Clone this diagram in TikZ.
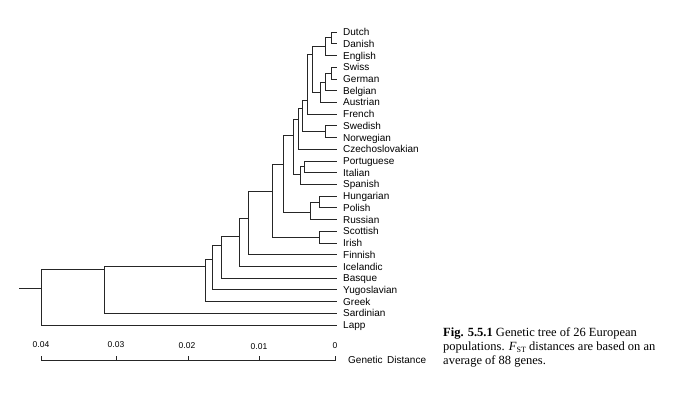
\documentclass[tikz,border=0pt]{standalone}
\usepackage{fontspec}
\setmainfont{Liberation Serif}
\newfontfamily\labfont{Liberation Sans}
\newcommand\dendjoin[3]{\draw[branch] (#1) |- (#2) (#1) |- (#3);}
\begin{document}
\begin{tikzpicture}[x=1pt,y=-1pt,
  branch/.style={draw=black!85, line width=0.7pt},
  leaf/.style={anchor=west, inner sep=0pt, text height=7.2pt, text depth=0pt,
    font=\labfont\fontsize{10}{12}\selectfont},
  ticklabel/.style={inner sep=0pt, font=\labfont\fontsize{8.5}{10}\selectfont},
  caption/.style={anchor=base west, inner sep=0pt, font=\fontsize{12.5}{14}\selectfont}]
\useasboundingbox (0,0) rectangle (700,393);
% leaves
\foreach \n/\t [count=\i from 0] in {dutch/Dutch, danish/Danish, english/English,
  swiss/Swiss, german/German, belgian/Belgian, austrian/Austrian, french/French,
  swedish/Swedish, norwegian/Norwegian, czech/Czechoslovakian, portuguese/Portuguese,
  italian/Italian, spanish/Spanish, hungarian/Hungarian, polish/Polish, russian/Russian,
  scottish/Scottish, irish/Irish, finnish/Finnish, icelandic/Icelandic, basque/Basque,
  yugoslavian/Yugoslavian, greek/Greek, sardinian/Sardinian, lapp/Lapp} {
  \node[leaf] (\n) at (343, 32+11.72*\i) {\t};
  \coordinate (\n-e) at (337, 32+11.72*\i);
}
% internal nodes (x = distance, y = connection height)
\coordinate (A) at (331,37.8);
\coordinate (B) at (325,46.5);
\coordinate (C) at (331,73);
\coordinate (D) at (325,82);
\coordinate (E) at (320,92);
\coordinate (F) at (312,54);
\coordinate (G) at (307,100);
\coordinate (H) at (325,131.6);
\coordinate (I) at (302,108);
\coordinate (J) at (298,119);
\coordinate (K) at (304,166.8);
\coordinate (L) at (300,174);
\coordinate (M) at (293,135);
\coordinate (N) at (319,202);
\coordinate (O) at (310,212);
\coordinate (P) at (283,164);
\coordinate (Q) at (319,237);
\coordinate (R) at (272,191);
\coordinate (S) at (248,218);
\coordinate (T) at (239,236);
\coordinate (U) at (221,245);
\coordinate (V) at (212,259);
\coordinate (W) at (205,266);
\coordinate (X) at (104,269);
\coordinate (Y) at (41,288);
\coordinate (rootend) at (19,288);
\dendjoin{A}{dutch-e}{danish-e}
\dendjoin{B}{A}{english-e}
\dendjoin{C}{swiss-e}{german-e}
\dendjoin{D}{C}{belgian-e}
\dendjoin{E}{D}{austrian-e}
\dendjoin{F}{B}{E}
\dendjoin{G}{F}{french-e}
\dendjoin{H}{swedish-e}{norwegian-e}
\dendjoin{I}{G}{H}
\dendjoin{J}{I}{czech-e}
\dendjoin{K}{portuguese-e}{italian-e}
\dendjoin{L}{K}{spanish-e}
\dendjoin{M}{J}{L}
\dendjoin{N}{hungarian-e}{polish-e}
\dendjoin{O}{N}{russian-e}
\dendjoin{P}{M}{O}
\dendjoin{Q}{scottish-e}{irish-e}
\dendjoin{R}{P}{Q}
\dendjoin{S}{R}{finnish-e}
\dendjoin{T}{S}{icelandic-e}
\dendjoin{U}{T}{basque-e}
\dendjoin{V}{U}{yugoslavian-e}
\dendjoin{W}{V}{greek-e}
\dendjoin{X}{W}{sardinian-e}
\dendjoin{Y}{X}{lapp-e}
\draw[branch] (Y) -- (rootend);
% axis
\coordinate (tk4) at (41,360.5);
\coordinate (tk3) at (116,360.5);
\coordinate (tk2) at (188,360.5);
\coordinate (tk1) at (259,360.5);
\coordinate (tk0) at (335,360.5);
\draw[branch] (tk4) -- (tk0);
\foreach \k in {tk4,tk3,tk2,tk1,tk0} \draw[branch] (\k) -- ++(0,-5);
\node[ticklabel] (l4) at (41,345) {0.04};
\node[ticklabel] (l3) at (116,344.5) {0.03};
\node[ticklabel] (l2) at (187,345.5) {0.02};
\node[ticklabel] (l1) at (259,347) {0.01};
\node[ticklabel] (l0) at (335,346) {0};
\node[anchor=west, inner sep=0pt, font=\labfont\fontsize{10}{12}\selectfont] (gd) at (348,359.5) {Genetic\hspace{4.5pt}Distance};
% caption
\node[caption] (cap1) at (443,336) {\textbf{Fig. 5.5.1} Genetic tree of 26 European};
\node[caption] (cap2) at (443,350) {populations. \textit{F}\raisebox{-2pt}{\fontsize{8}{8}\selectfont ST} distances are based on an};
\node[caption] (cap3) at (443,364) {average of 88 genes.};
\end{tikzpicture}
\end{document}
